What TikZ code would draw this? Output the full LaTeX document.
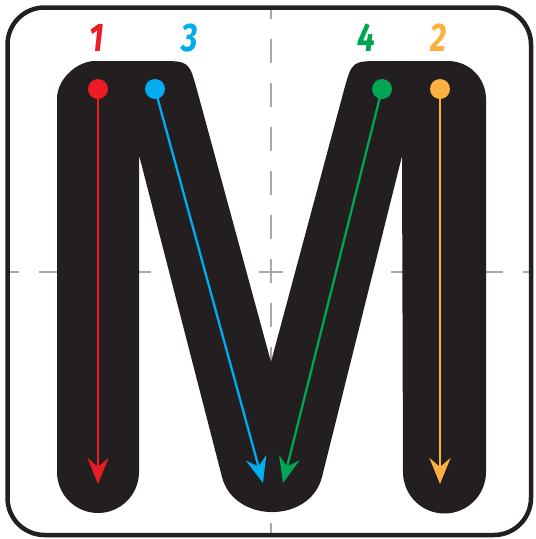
\documentclass[tikz,border=0pt]{standalone}
\usepackage{fontspec}
\newfontfamily\digitfont{Fira Sans}
\usetikzlibrary{arrows.meta}
\definecolor{mred}{HTML}{ED1C24}
\definecolor{mblue}{HTML}{00AEEF}
\definecolor{mgreen}{HTML}{00A651}
\definecolor{morange}{HTML}{FBB040}
\definecolor{mblack}{HTML}{231F20}
\definecolor{mgray}{HTML}{A7A9AC}
\begin{document}
\begin{tikzpicture}[x=1pt,y=-1pt,
  guide/.style={draw=mgray,line width=2.6pt,dash pattern=on 24pt off 20pt},
  frame/.style={draw=mblack,line width=4.5pt,rounded corners=37pt},
  startdot/.style={circle,fill=#1,minimum size=20pt,inner sep=0pt},
  stroke/.style={draw=#1,line width=2.3pt,-{Stealth[length=26pt,width=21pt,inset=9pt]}},
  numlabel/.style={text=#1,font=\digitfont\bfseries\itshape\fontsize{40}{40}\selectfont,xscale=0.8,inner sep=0pt}]
\useasboundingbox (0,0) rectangle (536,539);
% guide lines
\begin{scope}
\clip[rounded corners=37pt] (7.5,7.5) rectangle (531,535);
\draw[guide] (271,-5) -- (271,560);
\draw[guide] (-5,272) -- (560,272);
\end{scope}
% letter M
\fill[mblack] (57,472) -- (57,99) .. controls (57,78) and (78,61) .. (95,61)
  -- (159,61) .. controls (189,61) .. (197,90) -- (271,362) -- (344,90)
  .. controls (352,61) .. (382,61) -- (448,61) .. controls (469,61) and (486,78) .. (486,99)
  -- (486,472) arc[start angle=0,end angle=-180,radius=41.5pt]
  -- (402,156) -- (322,477) .. controls (310,524) and (234,523.5) .. (222,477)
  -- (139,155) -- (139,472) arc[start angle=0,end angle=-180,radius=41pt] -- cycle;
% frame
\draw[frame] (7.5,7.5) rectangle (531,535);
% start dots and tips
\node[startdot=mred] (d1) at (98,89) {};
\node[startdot=mblue] (d3) at (155,89) {};
\node[startdot=mgreen] (d4) at (382,89) {};
\node[startdot=morange] (d2) at (440,89) {};
\coordinate (t1) at (98,484);
\coordinate (t3) at (263,483);
\coordinate (t4) at (283,483);
\coordinate (t2) at (440,484);
\draw[stroke=mred] (d1.center) -- (t1);
\draw[stroke=mblue] (d3.center) -- (t3);
\draw[stroke=mgreen] (d4.center) -- (t4);
\draw[stroke=morange] (d2.center) -- (t2);
% numbers
\node[numlabel=mred] (n1) at (97,38) {1};
\node[numlabel=mblue] (n3) at (190,38) {3};
\node[numlabel=mgreen] (n4) at (366,38) {4};
\node[numlabel=morange] (n2) at (439,38) {2};
\end{tikzpicture}
\end{document}
